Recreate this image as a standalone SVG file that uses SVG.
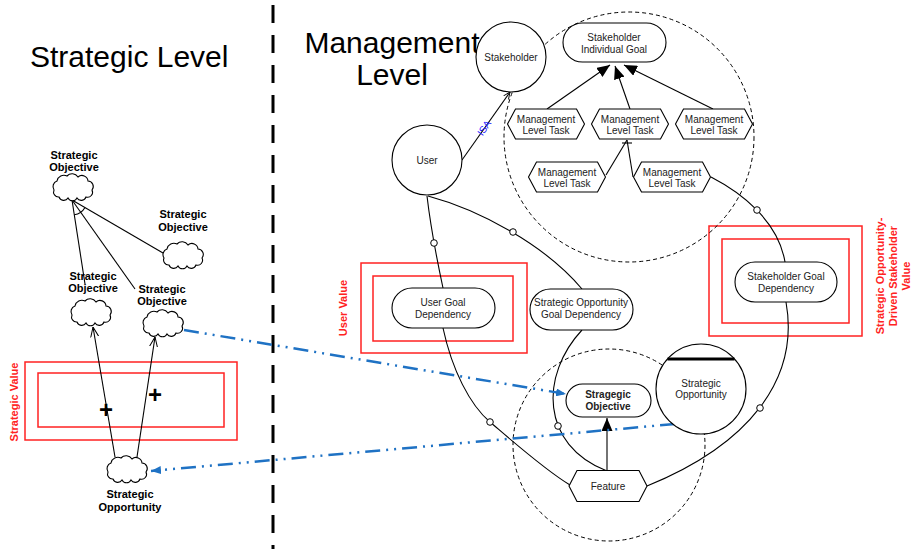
<svg xmlns="http://www.w3.org/2000/svg" width="914" height="549" viewBox="0 0 914 549">
  <style>
    text { font-family: "Liberation Sans", Arial, sans-serif; }
    .title { font-size: 30px; fill: #000; }
    .lbl { font-size: 10px; fill: #222; text-anchor: middle; }
    .blbl { font-size: 11px; font-weight: bold; fill: #000; text-anchor: middle; }
    .rlbl { font-size: 11px; font-weight: bold; fill: #f22; text-anchor: middle; }
    .node { fill: #fff; stroke: #000; stroke-width: 1.1; }
    .cloud { fill: #fff; stroke: #000; stroke-width: 1.1; }
    .box { fill: none; stroke: #f22; stroke-width: 1.5; }
    .scope { fill: none; stroke: #000; stroke-width: 1; stroke-dasharray: 4 3; }
    .link { fill: none; stroke: #000; stroke-width: 1.1; }
    .dep { fill: #fff; stroke: #000; stroke-width: 1; }
    .flow { fill: none; stroke: #1f72c4; stroke-width: 2.5; stroke-dasharray: 15 6 2 6 2 6; }
  </style>
  <defs>
    <path id="cloudShape" d="M-14,10 a5,5 0 0 1 -5,-7 a6,6 0 0 1 3,-9 a7,7 0 0 1 10,-5 a7,7 0 0 1 11,1 a6,6 0 0 1 10,4 a5.5,5.5 0 0 1 4,9 a5,5 0 0 1 -6,7 a5,5 0 0 1 -9,1 a5,5 0 0 1 -9,0 a5,5 0 0 1 -9,-1 Z"/>
    <marker id="openArrow" viewBox="0 0 10 10" refX="10" refY="5" markerWidth="10" markerHeight="10" markerUnits="userSpaceOnUse" orient="auto">
      <path d="M0,1 L10,5 L0,9" fill="none" stroke="#000" stroke-width="1"/>
    </marker>
    <marker id="smallOpen" viewBox="0 0 8 8" refX="8" refY="4" markerWidth="7" markerHeight="7" markerUnits="userSpaceOnUse" orient="auto">
      <path d="M0,0.5 L8,4 L0,7.5" fill="none" stroke="#000" stroke-width="1"/>
    </marker>
    <marker id="solidArrow" viewBox="0 0 13 11" refX="13" refY="5.5" markerWidth="13" markerHeight="11" markerUnits="userSpaceOnUse" orient="auto">
      <path d="M0,0 L13,5.5 L0,11 Z" fill="#000"/>
    </marker>
    <marker id="blueArrow" viewBox="0 0 10 8" refX="10" refY="4" markerWidth="10" markerHeight="8" markerUnits="userSpaceOnUse" orient="auto">
      <path d="M0,0 L10,4 L0,8 Z" fill="#1f72c4"/>
    </marker>
  </defs>

  <rect width="914" height="549" fill="#fff"/>

  <!-- level divider -->
  <line x1="273" y1="5" x2="273" y2="549" stroke="#000" stroke-width="3" stroke-dasharray="18 12"/>

  <!-- titles -->
  <text class="title" x="30" y="67">Strategic Level</text>
  <text class="title" x="392" y="53" text-anchor="middle">Management</text>
  <text class="title" x="392" y="85" text-anchor="middle">Level</text>

  <!-- value boxes -->
  <g id="strategic-value">
    <rect class="box" x="25" y="362" width="212" height="78"/>
    <rect class="box" x="38" y="373" width="186" height="54"/>
    <text class="rlbl" transform="translate(18,402) rotate(-90)">Strategic Value</text>
  </g>
  <g id="user-value">
    <rect class="box" x="361" y="263" width="166" height="90"/>
    <rect class="box" x="373" y="276" width="140" height="65"/>
    <text class="rlbl" transform="translate(347,308) rotate(-90)">User Value</text>
  </g>
  <g id="stakeholder-value">
    <rect class="box" x="709" y="226" width="153" height="110"/>
    <rect class="box" x="722" y="239" width="127" height="84"/>
    <text class="rlbl" transform="translate(884,276) rotate(-90)">Strategic Opportunity-</text>
    <text class="rlbl" transform="translate(897,276) rotate(-90)">Driven Stakeholder</text>
    <text class="rlbl" transform="translate(910,276) rotate(-90)">Value</text>
  </g>

  <!-- actor boundaries -->
  <g id="boundaries">
    <circle class="scope" cx="629" cy="137" r="125"/>
    <circle class="scope" cx="609" cy="445" r="96"/>
  </g>

  <!-- connectors -->
  <g id="connectors">
    <!-- strategic decomposition -->
    <line class="link" x1="72" y1="200" x2="85" y2="284"/>
    <line class="link" x1="72" y1="200" x2="135" y2="289"/>
    <line class="link" x1="72" y1="200" x2="163" y2="253"/>
    <path class="link" d="M74.3,214.8 A15,15 0 0 0 85,207.5"/>
    <line class="link" x1="115" y1="457" x2="93" y2="327" marker-end="url(#openArrow)"/>
    <line class="link" x1="137" y1="457" x2="155" y2="337" marker-end="url(#openArrow)"/>

    <!-- ISA -->
    <line class="link" x1="462" y1="160" x2="510" y2="92" marker-end="url(#smallOpen)"/>

    <!-- task contributions to the individual goal -->
    <line class="link" x1="547" y1="109" x2="610" y2="65" marker-end="url(#solidArrow)"/>
    <line class="link" x1="630" y1="109" x2="615" y2="66" marker-end="url(#solidArrow)"/>
    <line class="link" x1="713" y1="109" x2="624" y2="65" marker-end="url(#solidArrow)"/>

    <!-- task decomposition -->
    <line class="link" x1="606" y1="175" x2="627" y2="140"/>
    <line class="link" x1="633" y1="177" x2="627" y2="140"/>
    <line class="link" x1="622" y1="143" x2="632" y2="143"/>

    <!-- dependencies -->
    <path class="link" d="M427,196 C431,230 437,260 443,288"/>
    <path class="link" d="M443,328 C452,370 470,405 490,422 S545,470 570,485"/>
    <path class="link" d="M428,196 C480,210 545,245 582,289"/>
    <path class="link" d="M582,330 C540,375 540,445 607,471"/>
    <path class="link" d="M711,177 C740,192 778,220 785,262"/>
    <path class="link" d="M786,302 C800,380 748,445 647,486"/>
    <circle class="dep" cx="434" cy="243" r="3.3"/>
    <circle class="dep" cx="513" cy="232" r="3.3"/>
    <circle class="dep" cx="490" cy="422" r="3.3"/>
    <circle class="dep" cx="558" cy="426" r="3.3"/>
    <circle class="dep" cx="757" cy="210" r="3.3"/>
    <circle class="dep" cx="760" cy="408" r="3.3"/>

    <!-- feature realises objective -->
    <line class="link" x1="607" y1="471" x2="607" y2="418" marker-end="url(#solidArrow)"/>

    <!-- cross-level flows -->
    <line class="flow" x1="184" y1="330" x2="566" y2="394" marker-end="url(#blueArrow)"/>
    <line class="flow" x1="675" y1="424" x2="151" y2="471" marker-end="url(#blueArrow)"/>
  </g>

  <text x="487" y="130" font-size="10" fill="#1a1aff" text-anchor="middle" transform="rotate(-55 487 130)">ISA</text>

  <!-- strategic level clouds -->
  <g id="so-top">
    <use href="#cloudShape" class="cloud" transform="translate(73,187)"/>
    <text class="blbl" x="74" y="159">Strategic</text>
    <text class="blbl" x="74" y="171">Objective</text>
  </g>
  <g id="so-right">
    <use href="#cloudShape" class="cloud" transform="translate(183,255)"/>
    <text class="blbl" x="183" y="218">Strategic</text>
    <text class="blbl" x="183" y="231">Objective</text>
  </g>
  <g id="so-left">
    <use href="#cloudShape" class="cloud" transform="translate(91,312)"/>
    <text class="blbl" x="93" y="280">Strategic</text>
    <text class="blbl" x="93" y="292">Objective</text>
  </g>
  <g id="so-mid">
    <use href="#cloudShape" class="cloud" transform="translate(163,323)"/>
    <text class="blbl" x="162" y="293">Strategic</text>
    <text class="blbl" x="162" y="305">Objective</text>
  </g>
  <g id="sopp">
    <use href="#cloudShape" class="cloud" transform="translate(127,469)"/>
    <text class="blbl" x="130" y="498">Strategic</text>
    <text class="blbl" x="130" y="511">Opportunity</text>
  </g>
  <text x="106" y="418" font-size="24" font-weight="bold" text-anchor="middle">+</text>
  <text x="155" y="403" font-size="24" font-weight="bold" text-anchor="middle">+</text>

  <!-- management level nodes -->
  <g id="stakeholder">
    <circle class="node" cx="511" cy="57" r="35"/>
    <text class="lbl" x="511" y="61">Stakeholder</text>
  </g>
  <g id="user">
    <circle class="node" cx="427" cy="160" r="35"/>
    <text class="lbl" x="427" y="164">User</text>
  </g>
  <g id="individual-goal">
    <rect class="node" x="563" y="23" width="103" height="39" rx="19.5"/>
    <text class="lbl" x="614" y="41">Stakeholder</text>
    <text class="lbl" x="614" y="53">Individual Goal</text>
  </g>
  <g id="task-1">
    <polygon class="node" points="507.5,124 515.5,109 576.5,109 584.5,124 576.5,139 515.5,139"/>
    <text class="lbl" x="546" y="122.5">Management</text>
    <text class="lbl" x="546" y="134">Level Task</text>
  </g>
  <g id="task-2">
    <polygon class="node" points="591.5,124 599.5,109 660.5,109 668.5,124 660.5,139 599.5,139"/>
    <text class="lbl" x="630" y="122.5">Management</text>
    <text class="lbl" x="630" y="134">Level Task</text>
  </g>
  <g id="task-3">
    <polygon class="node" points="675.5,124 683.5,109 744.5,109 752.5,124 744.5,139 683.5,139"/>
    <text class="lbl" x="714" y="122.5">Management</text>
    <text class="lbl" x="714" y="134">Level Task</text>
  </g>
  <g id="task-4">
    <polygon class="node" points="528.5,177 536.5,162 597.5,162 605.5,177 597.5,192 536.5,192"/>
    <text class="lbl" x="567" y="175.5">Management</text>
    <text class="lbl" x="567" y="187">Level Task</text>
  </g>
  <g id="task-5">
    <polygon class="node" points="633.5,177 641.5,162 702.5,162 710.5,177 702.5,192 641.5,192"/>
    <text class="lbl" x="672" y="175.5">Management</text>
    <text class="lbl" x="672" y="187">Level Task</text>
  </g>
  <g id="user-goal-dep">
    <rect class="node" x="392" y="288" width="103" height="40" rx="20"/>
    <text class="lbl" x="443" y="306">User Goal</text>
    <text class="lbl" x="443" y="318">Dependency</text>
  </g>
  <g id="so-goal-dep">
    <rect class="node" x="530" y="289" width="103" height="41" rx="20.5"/>
    <text class="lbl" x="581" y="306">Strategic Opportunity</text>
    <text class="lbl" x="581" y="318">Goal Dependency</text>
  </g>
  <g id="stakeholder-goal-dep">
    <rect class="node" x="735" y="262" width="102" height="40" rx="20"/>
    <text class="lbl" x="786" y="280">Stakeholder Goal</text>
    <text class="lbl" x="786" y="292">Dependency</text>
  </g>
  <g id="strategic-objective">
    <rect class="node" x="566" y="384" width="85" height="33" rx="16.5"/>
    <text class="lbl" x="608" y="398" font-weight="bold" fill="#111">Stragegic</text>
    <text class="lbl" x="608" y="410" font-weight="bold" fill="#111">Objective</text>
  </g>
  <g id="strategic-opportunity">
    <circle class="node" cx="701" cy="389" r="45"/>
    <line x1="667.5" y1="359" x2="734.5" y2="359" stroke="#000" stroke-width="3"/>
    <text class="lbl" x="701" y="387">Strategic</text>
    <text class="lbl" x="701" y="398">Opportunity</text>
  </g>
  <g id="feature">
    <polygon class="node" points="569,486 577,470.5 639,470.5 647,486 639,501.5 577,501.5"/>
    <text class="lbl" x="608" y="490">Feature</text>
  </g>
</svg>
